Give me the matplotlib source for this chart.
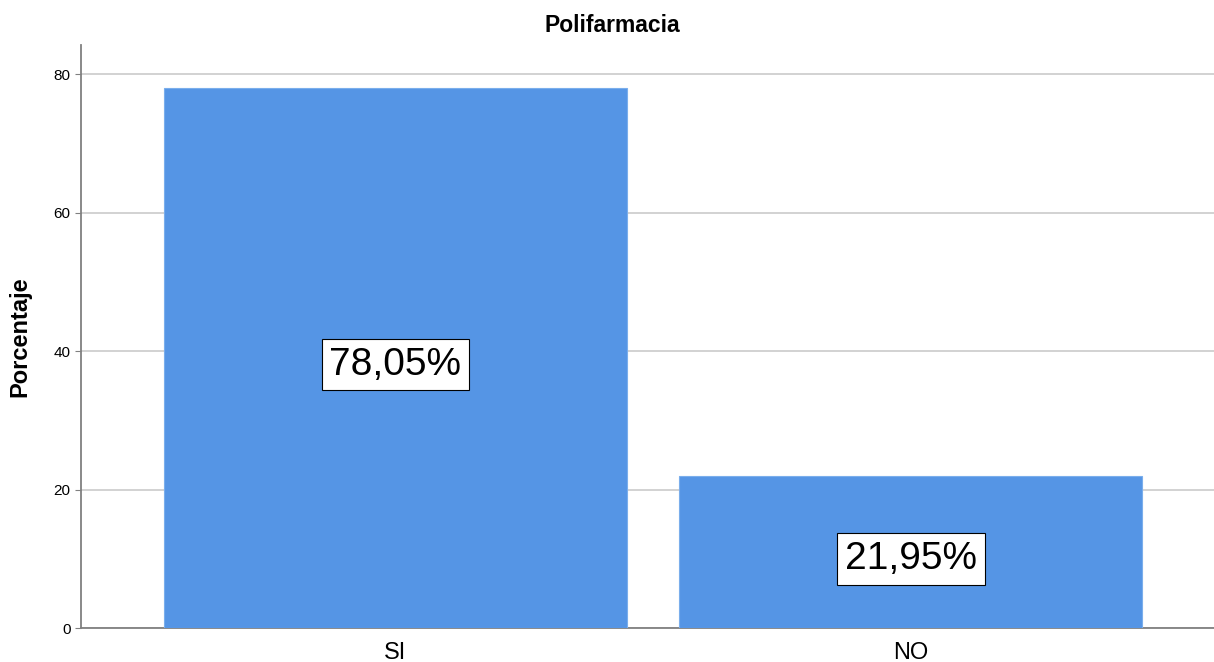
import matplotlib
matplotlib.use("Agg")
import matplotlib.pyplot as plt

categories = ["SI", "NO"]
values = [78.05, 21.95]
labels = ["78,05%", "21,95%"]
yticks = [0, 20, 40, 60, 80]

plt.rcParams['font.family'] = ['Liberation Sans', 'DejaVu Sans']

fig = plt.figure(figsize=(12.14, 6.62), dpi=100)
ax = fig.add_axes([81/1214, 34/662, 1 - 81/1214, (628-45)/662])

x = list(range(len(categories)))
ax.bar(x, values, width=0.898, color="#5595E5", edgecolor="#7AAEEC", linewidth=0.8, zorder=3)
for xi, v, lab in zip(x, values, labels):
    ax.text(xi, v/2 - 1.0, lab, ha="center", va="center", fontsize=28, color="black", zorder=4,
            bbox=dict(boxstyle="square,pad=0.2", facecolor="white", edgecolor="black", linewidth=0.8))

ax.set_xlim(-0.61, 1.588)
ax.set_ylim(0, 84.2)
ax.set_yticks(yticks)
ax.set_xticks(x)
ax.set_xticklabels(categories, fontsize=17)
ax.tick_params(axis="y", labelsize=11, length=4, color="#808080")
ax.tick_params(axis="x", length=0, pad=10)
ax.yaxis.grid(True, color="#CFCFCF", linewidth=1.3, zorder=0)
ax.set_axisbelow(True)
for s in ["top", "right"]:
    ax.spines[s].set_visible(False)
for s in ["left", "bottom"]:
    ax.spines[s].set_color("#808080")
    ax.spines[s].set_linewidth(1.3)

ax.set_ylabel("Porcentaje", fontsize=17, fontweight="bold", labelpad=16)
fig.text(612/1214, 1 - 26/662, "Polifarmacia", ha="center", va="center", fontsize=16.5, fontweight="bold")

fig.savefig("out.png", dpi=100, facecolor="white")
